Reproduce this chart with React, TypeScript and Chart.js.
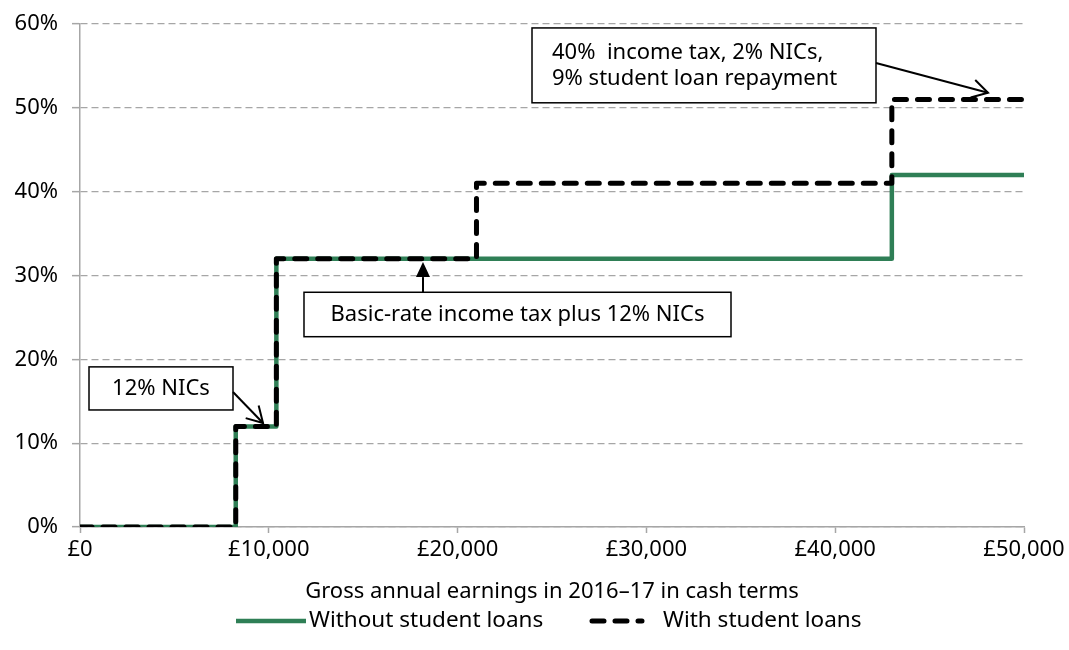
import React, { useEffect, useRef } from 'react';
import { Chart, registerables } from 'chart.js';

Chart.register(...registerables);

// ---- data ----
const earningsWithout = [0, 8250, 10400, 43000, 50000];
const rateWithout = [0, 12, 32, 42, 42];
const earningsWith = [0, 8250, 10400, 21000, 43000, 50000];
const rateWith = [0, 12, 32, 41, 51, 51];
const seriesLabels = ['Without student loans', 'With student loans'];
const xTickValues = [0, 10000, 20000, 30000, 40000, 50000];
const yTickValues = [0, 10, 20, 30, 40, 50, 60];
const xTitle = 'Gross annual earnings in 2016–17 in cash terms';

// annotation texts (anchored in data units)
const noteTexts = [
  ['12% NICs'],
  ['Basic-rate income tax plus 12% NICs'],
  ['40%  income tax, 2% NICs,', '9% student loan repayment'],
];

const GREEN = '#2f7f56';
const GRID = '#a6a6a6';
const FONT = '"Noto Sans", "Open Sans", sans-serif';

type Note = {
  lines: string[];
  box: [number, number, number, number]; // x1, yTop, x2, yBottom (data units)
  align: 'center' | 'left';
  arrow: { from: [number, number]; to: [number, number]; head: 'open' | 'filled' };
};

const notes: Note[] = [
  {
    lines: noteTexts[0],
    box: [477, 19.1, 8104, 13.96],
    align: 'center',
    arrow: { from: [8104, 16.1], to: [9693, 12.4], head: 'open' },
  },
  {
    lines: noteTexts[1],
    box: [11864, 28.0, 34481, 22.7],
    align: 'center',
    arrow: { from: [18167, 28.0], to: [18167, 31.6], head: 'filled' },
  },
  {
    lines: noteTexts[2],
    box: [23941, 59.53, 42161, 50.6],
    align: 'left',
    arrow: { from: [42161, 55.35], to: [48093, 51.8], head: 'open' },
  },
];

const annotationPlugin = {
  id: 'notes',
  afterDatasetsDraw(chart: any) {
    const { ctx, scales } = chart;
    const xs = scales.x;
    const ys = scales.y;
    ctx.save();
    for (const n of notes) {
      const x1 = xs.getPixelForValue(n.box[0]);
      const y1 = ys.getPixelForValue(n.box[1]);
      const x2 = xs.getPixelForValue(n.box[2]);
      const y2 = ys.getPixelForValue(n.box[3]);
      ctx.fillStyle = '#ffffff';
      ctx.fillRect(x1, y1, x2 - x1, y2 - y1);
      ctx.strokeStyle = '#000000';
      ctx.lineWidth = 1.5;
      ctx.setLineDash([]);
      ctx.strokeRect(x1, y1, x2 - x1, y2 - y1);
      ctx.fillStyle = '#000000';
      ctx.font = `22px ${FONT}`;
      ctx.textBaseline = 'middle';
      const lh = 26;
      const cy = (y1 + y2) / 2;
      n.lines.forEach((line, i) => {
        const ty = cy + (i - (n.lines.length - 1) / 2) * lh;
        if (n.align === 'center') {
          ctx.textAlign = 'center';
          ctx.fillText(line, (x1 + x2) / 2, ty);
        } else {
          ctx.textAlign = 'left';
          ctx.fillText(line, x1 + 20, ty);
        }
      });
      // arrow
      const ax = xs.getPixelForValue(n.arrow.from[0]);
      const ay = ys.getPixelForValue(n.arrow.from[1]);
      const bx = xs.getPixelForValue(n.arrow.to[0]);
      const by = ys.getPixelForValue(n.arrow.to[1]);
      const ang = Math.atan2(by - ay, bx - ax);
      ctx.strokeStyle = '#000';
      ctx.lineWidth = 2;
      ctx.lineCap = 'butt';
      if (n.arrow.head === 'open') {
        ctx.beginPath();
        ctx.moveTo(ax, ay);
        ctx.lineTo(bx, by);
        ctx.stroke();
        const L = 18;
        const a = Math.PI / 6;
        ctx.beginPath();
        ctx.moveTo(bx - L * Math.cos(ang - a), by - L * Math.sin(ang - a));
        ctx.lineTo(bx, by);
        ctx.lineTo(bx - L * Math.cos(ang + a), by - L * Math.sin(ang + a));
        ctx.stroke();
      } else {
        const L = 15;
        const hw = 7;
        const baseX = bx - L * Math.cos(ang);
        const baseY = by - L * Math.sin(ang);
        ctx.beginPath();
        ctx.moveTo(ax, ay);
        ctx.lineTo(baseX, baseY);
        ctx.stroke();
        ctx.beginPath();
        ctx.moveTo(bx, by);
        ctx.lineTo(baseX + hw * Math.sin(ang), baseY - hw * Math.cos(ang));
        ctx.lineTo(baseX - hw * Math.sin(ang), baseY + hw * Math.cos(ang));
        ctx.closePath();
        ctx.fillStyle = '#000';
        ctx.fill();
      }
    }
    ctx.restore();
  },
};

const legendPlugin = {
  id: 'customLegend',
  afterDraw(chart: any) {
    const { ctx } = chart;
    const items = [
      { ds: chart.data.datasets[0], x0: 236, x1: 306, tx: 309 },
      { ds: chart.data.datasets[1], x0: 592, x1: 642, tx: 663 },
    ];
    const y = 621;
    ctx.save();
    for (const it of items) {
      ctx.beginPath();
      ctx.strokeStyle = it.ds.borderColor;
      ctx.lineWidth = it.ds.borderWidth;
      ctx.setLineDash(it.ds.borderDash || []);
      ctx.lineCap = it.ds.borderCapStyle || 'butt';
      ctx.moveTo(it.x0, y);
      ctx.lineTo(it.x1, y);
      ctx.stroke();
      ctx.setLineDash([]);
      ctx.fillStyle = '#000';
      ctx.font = `22.5px ${FONT}`;
      ctx.textAlign = 'left';
      ctx.textBaseline = 'middle';
      ctx.fillText(it.ds.label, it.tx, y);
    }
    ctx.restore();
  },
};

export default function App() {
  const ref = useRef<HTMLCanvasElement | null>(null);
  useEffect(() => {
    if (!ref.current) return;
    const chart = new Chart(ref.current, {
      type: 'line',
      data: {
        datasets: [
          {
            label: seriesLabels[0],
            data: earningsWithout.map((x, i) => ({ x, y: rateWithout[i] })),
            stepped: true,
            borderColor: GREEN,
            borderWidth: 4.5,
            borderJoinStyle: 'round',
            pointRadius: 0,
            order: 1,
          },
          {
            label: seriesLabels[1],
            data: earningsWith.map((x, i) => ({ x, y: rateWith[i] })),
            stepped: true,
            borderColor: '#000000',
            borderWidth: 5,
            borderDash: [12, 11],
            borderCapStyle: 'round',
            borderJoinStyle: 'round',
            pointRadius: 0,
            order: 0,
          },
        ] as any,
      },
      options: {
        animation: false,
        responsive: false,
        layout: { padding: { left: 0, right: 45, top: 24, bottom: 45 } },
        plugins: {
          legend: { display: false },
          tooltip: { enabled: false },
        },
        scales: {
          x: {
            type: 'linear',
            min: 0,
            max: 50000,
            afterBuildTicks: (s: any) => {
              s.ticks = xTickValues.map((v) => ({ value: v }));
            },
            afterFit: (s: any) => {
              s.height = 78;
              s.paddingLeft = 0;
              s.paddingRight = 0;
            },
            ticks: {
              color: '#000',
              font: { family: FONT, size: 22 },
              padding: 4,
              maxRotation: 0,
              callback: (v: any) => '£' + Number(v).toLocaleString('en-GB'),
            },
            grid: {
              display: true,
              drawOnChartArea: false,
              drawTicks: true,
              tickLength: 6,
              tickColor: GRID,
              tickWidth: 1.5,
            },
            border: { display: true, color: GRID, width: 1.5 },
            title: {
              display: true,
              text: xTitle,
              color: '#000',
              font: { family: FONT, size: 22 },
              padding: { top: 0, bottom: 0 },
            },
          },
          y: {
            type: 'linear',
            min: 0,
            max: 60,
            afterBuildTicks: (s: any) => {
              s.ticks = yTickValues.map((v) => ({ value: v }));
            },
            afterFit: (s: any) => {
              s.width = 80;
              s.paddingTop = 0;
              s.paddingBottom = 0;
            },
            ticks: {
              color: '#000',
              font: { family: FONT, size: 22 },
              padding: 14,
              callback: (v: any) => v + '%',
            },
            grid: {
              color: GRID,
              lineWidth: 1.3,
              drawTicks: true,
              tickLength: 8,
              tickColor: GRID,
              tickWidth: 1.5,
              tickBorderDash: [],
            },
            border: { display: true, color: GRID, width: 1.5, dash: [7, 4] },
          },
        },
      } as any,
      plugins: [annotationPlugin, legendPlugin],
    });
    return () => chart.destroy();
  }, []);
  return (
    <div style={{ position: 'absolute', left: 0, top: 0, width: 1069, height: 650, background: '#fff' }}>
      <canvas ref={ref} width={1069} height={650} />
    </div>
  );
}
